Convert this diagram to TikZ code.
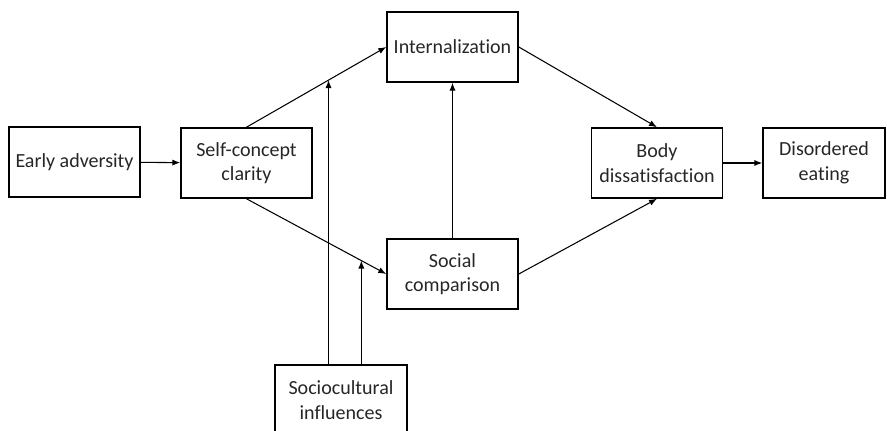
\documentclass[tikz,border=0pt]{standalone}
\usepackage{fontspec}
\setmainfont[Ligatures=NoCommon]{Carlito}
\usetikzlibrary{arrows.meta}

\begin{document}
\begin{tikzpicture}[x=0.02cm, y=-0.02cm,
    box/.style={draw, line width=0.9pt, minimum width=131*0.02cm, minimum height=70*0.02cm,
      inner sep=2pt, align=center, text=black!85, font=\fontsize{11.4}{14}\selectfont},
    arr/.style={line width=0.6pt, -{Latex[length=4.5pt, width=3.5pt]}}]
  % Drawing parameters
  \pgfmathsetmacro{\maxx}{887}
  \pgfmathsetmacro{\maxy}{431}

  \useasboundingbox (0,0) rectangle (\maxx, \maxy);
  \clip (0,0) rectangle (\maxx, \maxy);

  \node[box] (early)  at (74.5, 162) {Early adversity};
  \node[box] (self)   at (246.5, 163) {Self-concept\\clarity};
  \node[box] (intern) at (452.5, 47) {Internalization};
  \node[box] (social) at (452.5, 274) {Social\\comparison};
  \node[box] (body)   at (657, 163) {Body\\dissatisfaction};
  \node[box, minimum width=122*0.02cm] (eating) at (824, 163) {Disordered\\eating};
  \node[box, minimum width=132*0.02cm] (socio) at (341, 400) {Sociocultural\\influences};

  \draw[arr] (early) -- (self);
  \draw[arr] (self.north) -- (intern.west) coordinate[pos=0.587] (hitA);
  \draw[arr] (self.south) -- (social.west) coordinate[pos=0.822] (hitB);
  \draw[arr] (social.north) -- (intern.south);
  \draw[arr] (intern.east) -- (body.north);
  \draw[arr] (social.east) -- (body.south);
  \draw[arr] (body) -- (eating);

  % moderator lines onto the two paths
  \draw[arr] (hitA |- socio.north) -- (hitA);
  \draw[arr] (hitB |- socio.north) -- (hitB);
\end{tikzpicture}
\end{document}
